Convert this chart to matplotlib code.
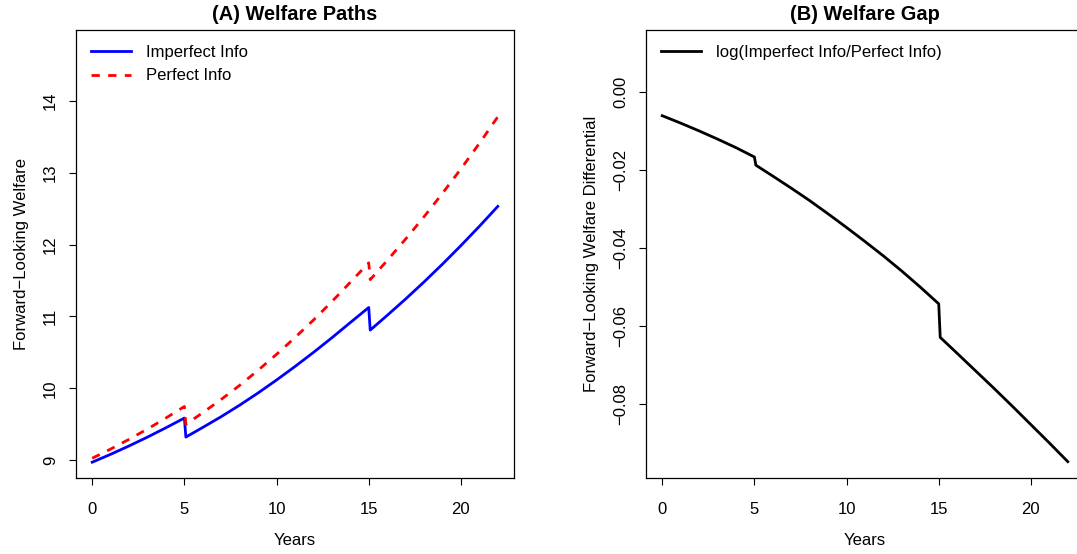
"""
Welfare paths and welfare gap, imperfect vs perfect information.
"""

import matplotlib.pyplot as plt

plt.rcParams["font.family"] = ["Liberation Sans", "DejaVu Sans"]

# years, with a short step after 5 and 15 where the paths jump
years = [0, 1, 2, 3, 4, 5, 5.08, 6, 7, 8, 9, 10, 11, 12, 13, 14, 15, 15.08,
         16, 17, 18, 19, 20, 21, 22]

imperfect_info = [8.970, 9.080, 9.197, 9.320, 9.450, 9.585, 9.320, 9.455,
                  9.605, 9.765, 9.935, 10.115, 10.303, 10.499, 10.703, 10.915,
                  11.125, 10.810, 11.015, 11.243, 11.481, 11.729, 11.987,
                  12.255, 12.533]

perfect_info = [9.025, 9.153, 9.289, 9.433, 9.586, 9.746, 9.497, 9.661, 9.845,
                10.041, 10.251, 10.473, 10.706, 10.950, 11.207, 11.476, 11.747,
                11.513, 11.779, 12.078, 12.389, 12.715, 13.056, 13.410, 13.781]

welfare_gap = [-0.0061, -0.0080, -0.0100, -0.0121, -0.0143, -0.0167, -0.0188,
               -0.0216, -0.0247, -0.0279, -0.0313, -0.0348, -0.0384, -0.0421,
               -0.0460, -0.0501, -0.0544, -0.0630, -0.0671, -0.0716, -0.0761,
               -0.0807, -0.0854, -0.0901, -0.0949]

x_ticks = [0, 5, 10, 15, 20]
welfare_ticks = [9, 10, 11, 12, 13, 14]
gap_ticks = [0.00, -0.02, -0.04, -0.06, -0.08]
gap_tick_labels = ["0.00", "\u22120.02", "\u22120.04", "\u22120.06", "\u22120.08"]

W, H = 1077, 554


def style_axes(ax):
    for sp in ax.spines.values():
        sp.set_linewidth(0.9)
        sp.set_color("black")
    ax.tick_params(direction="out", length=5, width=0.8, labelsize=12,
                   colors="black")
    ax.tick_params(axis="x", pad=12.5)
    ax.tick_params(axis="y", pad=8, labelrotation=90)
    for lab in ax.get_yticklabels():
        lab.set_va("center")
    ax.set_xlim(-0.88, 22.88)
    ax.set_xticks(x_ticks)
    ax.set_xlabel("Years", fontsize=12)
    ax.xaxis.set_label_coords(0.5, -0.122)


fig = plt.figure(figsize=(W / 100, H / 100), dpi=100)

# (A) welfare paths
ax1 = fig.add_axes([76 / W, 1 - 478 / H, 438 / W, 448 / H])
ax1.plot(years, imperfect_info, color="#0000FF", lw=2, label="Imperfect Info")
ax1.plot(years, perfect_info, color="#FF0000", lw=2, linestyle=(0, (3, 3)),
         label="Perfect Info")
ax1.set_ylim(8.75, 14.99)
ax1.set_yticks(welfare_ticks)
ax1.set_yticklabels([str(t) for t in welfare_ticks])
style_axes(ax1)
ax1.set_ylabel("Forward\u2212Looking Welfare", fontsize=12)
ax1.yaxis.set_label_coords(-0.108, 0.5)
ax1.set_title("(A) Welfare Paths", fontsize=14.4, fontweight="bold", pad=7)
ax1.legend(loc="upper left", frameon=False, fontsize=12, handlelength=2.4,
           handletextpad=0.9, labelspacing=0.5, borderaxespad=0.5)

# (B) welfare gap
ax2 = fig.add_axes([646 / W, 1 - 478 / H, 438 / W, 448 / H])
ax2.plot(years, welfare_gap, color="black", lw=2,
         label="log(Imperfect Info/Perfect Info)")
ax2.set_ylim(-0.0991, 0.0159)
ax2.set_yticks(gap_ticks)
ax2.set_yticklabels(gap_tick_labels)
style_axes(ax2)
ax2.set_ylabel("Forward\u2212Looking Welfare Differential", fontsize=12)
ax2.yaxis.set_label_coords(-0.108, 0.5)
ax2.set_title("(B) Welfare Gap", fontsize=14.4, fontweight="bold", pad=7)
ax2.legend(loc="upper left", frameon=False, fontsize=12, handlelength=2.4,
           handletextpad=0.9, borderaxespad=0.5)

fig.savefig("out.png", dpi=100)
